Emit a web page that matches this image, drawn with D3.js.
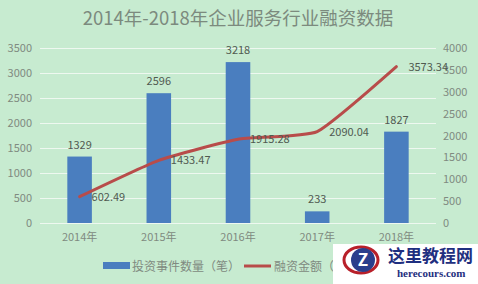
<!DOCTYPE html>
<html>
<head>
<meta charset="utf-8">
<script src="https://cdn.jsdelivr.net/npm/d3@7"></script>
<style>
  body { margin: 0; background: #c7ebd0; }
  text { font-family: "Noto Sans CJK SC", "Liberation Sans", sans-serif; }
</style>
</head>
<body>
<svg id="chart" width="478" height="284"></svg>
<script>
// Chart data
var years = ['2014年', '2015年', '2016年', '2017年', '2018年'];
var dealCounts = [1329, 2596, 3218, 233, 1827];
var fundingAmounts = [602.49, 1433.47, 1915.28, 2090.04, 3573.34];
var leftTicks = [0, 500, 1000, 1500, 2000, 2500, 3000, 3500];
var rightTicks = [0, 500, 1000, 1500, 2000, 2500, 3000, 3500, 4000];
var seriesNames = ['投资事件数量（笔）', '融资金额（亿元）'];

var BAR_COLOR = '#4a7ebf',
    LINE_COLOR = '#b84c4a',
    GRID_COLOR = '#eef8f0',
    TEXT_COLOR = '#808a80',
    LABEL_COLOR = '#505a50';

var svg = d3.select('#chart');
var plot = { left: 40, right: 436, top: 48, bottom: 223 };

svg.append('rect')
    .attr('width', 478).attr('height', 284)
    .attr('fill', '#c7ebd0');

var x = d3.scaleBand()
    .domain(years)
    .range([plot.left, plot.right])
    .paddingInner(0.69)
    .paddingOuter(0.345);

var yLeft = d3.scaleLinear().domain([0, 3500]).range([plot.bottom, plot.top]);
var yRight = d3.scaleLinear().domain([0, 4000]).range([plot.bottom, plot.top]);

// Title
svg.append('text')
    .attr('x', 238).attr('y', 25)
    .attr('text-anchor', 'middle')
    .attr('font-size', 18.5)
    .attr('fill', '#7c8a7e')
    .text('2014年-2018年企业服务行业融资数据');

// Gridlines
svg.append('g').selectAll('line')
    .data(leftTicks)
    .enter().append('line')
    .attr('x1', plot.left).attr('x2', plot.right)
    .attr('y1', function(d) { return yLeft(d) + 0.5; })
    .attr('y2', function(d) { return yLeft(d) + 0.5; })
    .attr('stroke', GRID_COLOR)
    .attr('stroke-width', 1);

// Left axis
var leftAxis = svg.append('g')
    .attr('transform', 'translate(' + (plot.left - 8) + ',0)')
    .call(d3.axisLeft(yLeft).tickValues(leftTicks).tickFormat(d3.format('d')).tickSize(0).tickPadding(0));
leftAxis.select('.domain').remove();
leftAxis.selectAll('text').attr('fill', TEXT_COLOR).attr('font-size', 11);

// Right axis
var rightAxis = svg.append('g')
    .attr('transform', 'translate(' + (plot.right + 7) + ',0)')
    .call(d3.axisRight(yRight).tickValues(rightTicks).tickFormat(d3.format('d')).tickSize(0).tickPadding(0));
rightAxis.select('.domain').remove();
rightAxis.selectAll('text').attr('fill', TEXT_COLOR).attr('font-size', 11);

// Bottom axis
var bottomAxis = svg.append('g')
    .attr('transform', 'translate(0,' + plot.bottom + ')')
    .call(d3.axisBottom(x).tickSize(0).tickPadding(10));
bottomAxis.select('.domain').remove();
bottomAxis.selectAll('text').attr('fill', TEXT_COLOR).attr('font-size', 11);

// Bars
svg.append('g').selectAll('rect')
    .data(dealCounts)
    .enter().append('rect')
    .attr('x', function(d, i) { return x(years[i]); })
    .attr('y', function(d) { return yLeft(d); })
    .attr('width', x.bandwidth())
    .attr('height', function(d) { return plot.bottom - yLeft(d); })
    .attr('fill', BAR_COLOR);

svg.append('g').selectAll('text')
    .data(dealCounts)
    .enter().append('text')
    .attr('x', function(d, i) { return x(years[i]) + x.bandwidth() / 2; })
    .attr('y', function(d) { return yLeft(d) - 8; })
    .attr('text-anchor', 'middle')
    .attr('font-size', 11)
    .attr('fill', LABEL_COLOR)
    .text(function(d) { return d; });

// Smoothed line, light smoothing like the spreadsheet one
var line = d3.line()
    .x(function(d, i) { return x(years[i]) + x.bandwidth() / 2; })
    .y(function(d) { return yRight(d); })
    .curve(d3.curveCardinal.tension(0.55));

svg.append('path')
    .datum(fundingAmounts)
    .attr('d', line)
    .attr('fill', 'none')
    .attr('stroke', LINE_COLOR)
    .attr('stroke-width', 3)
    .attr('stroke-linecap', 'round');

svg.append('g').selectAll('text')
    .data(fundingAmounts)
    .enter().append('text')
    .attr('x', function(d, i) { return x(years[i]) + x.bandwidth() / 2 + 12; })
    .attr('y', function(d) { return yRight(d) + 4; })
    .attr('font-size', 11)
    .attr('fill', LABEL_COLOR)
    .text(function(d) { return d.toFixed(2); });

// Legend
var legend = svg.append('g').attr('transform', 'translate(0,266)');
legend.append('rect')
    .attr('x', 103).attr('y', -4).attr('width', 27).attr('height', 7)
    .attr('fill', BAR_COLOR);
legend.append('text')
    .attr('x', 132).attr('y', 4.5)
    .attr('font-size', 12).attr('fill', TEXT_COLOR)
    .text(seriesNames[0]);
legend.append('line')
    .attr('x1', 244).attr('x2', 271).attr('y1', 0).attr('y2', 0)
    .attr('stroke', LINE_COLOR).attr('stroke-width', 3);
legend.append('text')
    .attr('x', 274).attr('y', 4.5)
    .attr('font-size', 12).attr('fill', TEXT_COLOR)
    .text(seriesNames[1]);

// Watermark box in the corner
var mark = svg.append('g');
mark.append('rect')
    .attr('x', 333).attr('y', 244).attr('width', 145).attr('height', 40)
    .attr('fill', '#ffffff');
mark.append('ellipse')
    .attr('cx', 361).attr('cy', 260).attr('rx', 17).attr('ry', 13)
    .attr('fill', 'none').attr('stroke', '#b8202a').attr('stroke-width', 3);
mark.append('circle')
    .attr('cx', 363).attr('cy', 260).attr('r', 12)
    .attr('fill', '#2a3e8c');
mark.append('text')
    .attr('x', 363).attr('y', 266)
    .attr('text-anchor', 'middle')
    .attr('font-size', 17).attr('font-weight', 'bold')
    .attr('font-family', 'DejaVu Serif, serif')
    .attr('fill', '#ffffff')
    .text('Z');
mark.append('text')
    .attr('x', 388).attr('y', 262)
    .attr('font-size', 17).attr('font-weight', 'bold')
    .attr('fill', '#1f2f80')
    .attr('style', 'font-family: "Noto Sans CJK SC", serif')
    .text('这里教程网');
mark.append('text')
    .attr('x', 397).attr('y', 277)
    .attr('font-size', 11).attr('font-weight', 'bold')
    .attr('fill', '#1f2f80')
    .attr('style', 'font-family: "Liberation Serif", serif')
    .text('herecours.com');
</script>
</body>
</html>
